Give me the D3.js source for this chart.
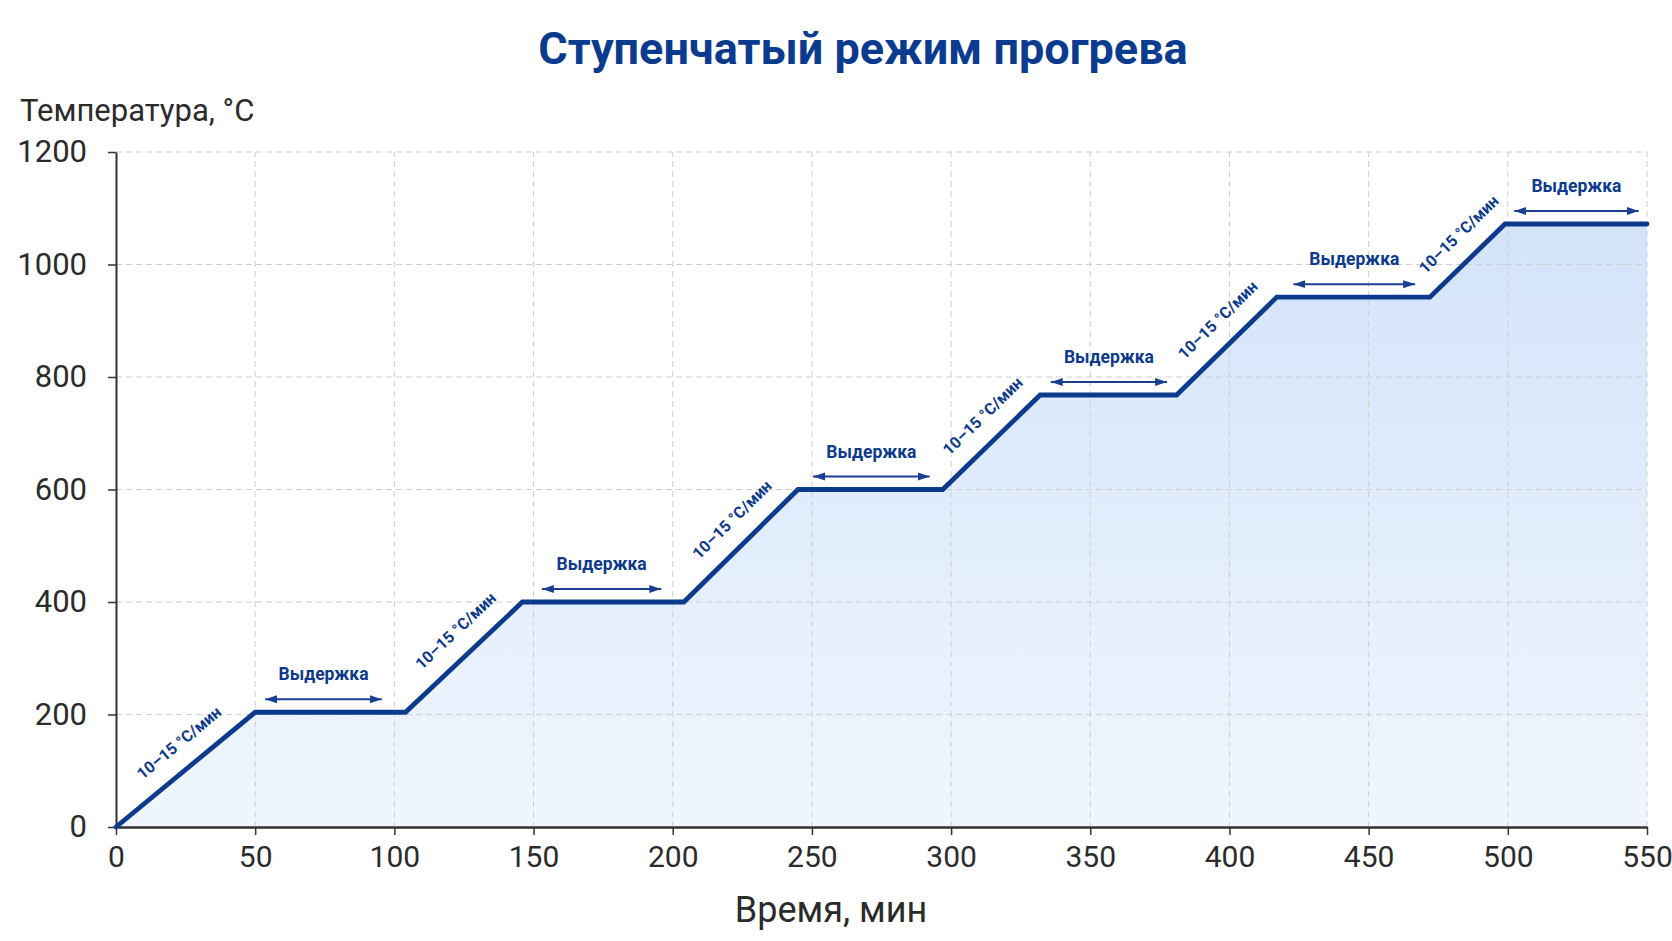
<!DOCTYPE html>
<html>
<head>
<meta charset="utf-8">
<script src="https://cdn.jsdelivr.net/npm/d3@7/dist/d3.min.js"></script>
<style>
  html, body { margin: 0; padding: 0; background: #ffffff; }
  svg { display: block; }
</style>
</head>
<body>
<svg id="chart" width="1672" height="941"></svg>
<script>
// ---- Data ----
const timeMin = [0, 50, 104, 146, 204, 245, 297, 332, 381, 417, 472, 499, 550];
const tempC   = [0, 204, 204, 400, 400, 600, 600, 768, 768, 942, 942, 1072, 1072];

const xTicks = [0, 50, 100, 150, 200, 250, 300, 350, 400, 450, 500, 550];
const yTicks = [0, 200, 400, 600, 800, 1000, 1200];

// hold (plateau) arrows: start and end time, temperature level
const holdStart = [53.6, 153, 250.4, 335.8, 423, 502.3];
const holdEnd   = [95.5, 195.9, 292.3, 377.6, 466.7, 547];
const holdTemp  = [204, 400, 600, 768, 942, 1072];
const holdLabel = "Выдержка";

// ramp segments: index of start point in series
const rampStartIdx = [0, 2, 4, 6, 8, 10];
const rampLabel = "10–15 °C/мин";

const titleText = "Ступенчатый режим прогрева";
const xTitle = "Время, мин";
const yTitle = "Температура, °C";

// ---- Layout ----
const W = 1672, H = 941;
const margin = { left: 116, right: 25, top: 152, bottom: 114 };
const svg = d3.select("#chart");
const FONT = "Roboto, 'Liberation Sans', Arial, sans-serif";
const NAVY = "#0b3a8e";
const TXT = "#2b2b2b";

const x = d3.scaleLinear().domain([0, 550]).range([margin.left, W - margin.right]);
const y = d3.scaleLinear().domain([0, 1200]).range([H - margin.bottom, margin.top]);

const pts = timeMin.map((t, i) => ({ t, v: tempC[i] }));

// defs
const defs = svg.append("defs");
const grad = defs.append("linearGradient")
  .attr("id", "areaGrad").attr("gradientUnits", "userSpaceOnUse")
  .attr("x1", 0).attr("x2", 0).attr("y1", y(1100)).attr("y2", y(0));
grad.append("stop").attr("offset", "0%").attr("stop-color", "#d2e3f9");
grad.append("stop").attr("offset", "100%").attr("stop-color", "#f0f6fe");

["arrS", "arrE"].forEach((id, k) => {
  defs.append("marker")
    .attr("id", id)
    .attr("viewBox", "0 0 12 10")
    .attr("refX", k === 0 ? 0 : 12).attr("refY", 5)
    .attr("markerWidth", 12).attr("markerHeight", 10)
    .attr("markerUnits", "userSpaceOnUse")
    .attr("orient", "auto")
    .append("path")
    .attr("d", k === 0 ? "M12,1 L0,5 L12,9 Z" : "M0,1 L12,5 L0,9 Z")
    .attr("fill", "#1a3f92");
});

// area
const area = d3.area().x(d => x(d.t)).y0(y(0)).y1(d => y(d.v));
svg.append("path").datum(pts).attr("d", area).attr("fill", "url(#areaGrad)");

// grid
const grid = svg.append("g").attr("class", "grid");
grid.selectAll("line.v").data(xTicks.filter(d => d > 0)).enter().append("line")
  .attr("x1", d => x(d)).attr("x2", d => x(d))
  .attr("y1", y(0)).attr("y2", y(1200))
  .attr("stroke", "#cfcfcf").attr("stroke-width", 1).attr("stroke-dasharray", "6,4");
grid.selectAll("line.h").data(yTicks.filter(d => d > 0)).enter().append("line")
  .attr("x1", x(0)).attr("x2", x(550))
  .attr("y1", d => y(d)).attr("y2", d => y(d))
  .attr("stroke", "#cfcfcf").attr("stroke-width", 1).attr("stroke-dasharray", "6,4");

// axes
const yAxis = d3.axisLeft(y).tickValues(yTicks).tickFormat(d3.format("d"))
  .tickSize(8).tickPadding(21).tickSizeOuter(0);
const gy = svg.append("g").attr("transform", `translate(${x(0)},0)`).call(yAxis);
gy.select(".domain").attr("stroke", "#333").attr("stroke-width", 2);
gy.selectAll(".tick line").attr("stroke", "#333").attr("stroke-width", 1.5);
gy.selectAll(".tick text").attr("font-family", FONT).attr("font-size", 31).attr("fill", TXT);

const xAxis = d3.axisBottom(x).tickValues(xTicks).tickFormat(d3.format("d"))
  .tickSize(8).tickPadding(11).tickSizeOuter(0);
const gx = svg.append("g").attr("transform", `translate(0,${y(0)})`).call(xAxis);
gx.select(".domain").attr("stroke", "#333").attr("stroke-width", 2.5);
gx.selectAll(".tick line").attr("stroke", "#333").attr("stroke-width", 1.5);
gx.selectAll(".tick text").attr("font-family", FONT).attr("font-size", 30).attr("fill", TXT);

// line
const line = d3.line().x(d => x(d.t)).y(d => y(d.v));
svg.append("path").datum(pts).attr("d", line)
  .attr("fill", "none").attr("stroke", NAVY).attr("stroke-width", 4.8)
  .attr("stroke-linejoin", "miter").attr("stroke-linecap", "round");

// hold arrows + labels
const holds = holdStart.map((s, i) => ({ s, e: holdEnd[i], v: holdTemp[i] }));
const hg = svg.append("g");
hg.selectAll("line").data(holds).enter().append("line")
  .attr("x1", d => x(d.s)).attr("x2", d => x(d.e))
  .attr("y1", d => y(d.v) - 13).attr("y2", d => y(d.v) - 13)
  .attr("stroke", "#1a3f92").attr("stroke-width", 2)
  .attr("marker-start", "url(#arrS)").attr("marker-end", "url(#arrE)");
hg.selectAll("text").data(holds).enter().append("text")
  .attr("x", d => (x(d.s) + x(d.e)) / 2)
  .attr("y", d => y(d.v) - 32)
  .attr("text-anchor", "middle")
  .attr("font-family", FONT).attr("font-weight", 700).attr("font-size", 17.5)
  .attr("fill", "#0d3a8c")
  .text(holdLabel);

// ramp labels
const rg = svg.append("g");
rampStartIdx.forEach(i => {
  const x1 = x(timeMin[i]), y1 = y(tempC[i]);
  const x2 = x(timeMin[i + 1]), y2 = y(tempC[i + 1]);
  const ang = Math.atan2(y2 - y1, x2 - x1);
  const mx = (x1 + x2) / 2, my = (y1 + y2) / 2;
  const ux = Math.cos(ang), uy = Math.sin(ang);
  const px = uy, py = -ux;
  const a = 12, d = 25;
  const cx = mx + ux * a + px * d, cy = my + uy * a + py * d;
  rg.append("text")
    .attr("transform", `translate(${cx},${cy}) rotate(${ang * 180 / Math.PI})`)
    .attr("text-anchor", "middle").attr("dy", "0.35em")
    .attr("font-family", FONT).attr("font-weight", 700).attr("font-size", 16)
    .attr("fill", "#0d3a8c")
    .text(rampLabel);
});

// titles
svg.append("text").attr("x", 863).attr("y", 64)
  .attr("text-anchor", "middle")
  .attr("font-family", FONT).attr("font-weight", 700).attr("font-size", 45)
  .attr("fill", "#0b3b8f").text(titleText);

svg.append("text").attr("x", 20).attr("y", 121)
  .attr("font-family", FONT).attr("font-size", 31).attr("fill", TXT).text(yTitle);

svg.append("text").attr("x", 831).attr("y", 922)
  .attr("text-anchor", "middle")
  .attr("font-family", FONT).attr("font-size", 36).attr("fill", TXT).text(xTitle);
</script>
</body>
</html>
